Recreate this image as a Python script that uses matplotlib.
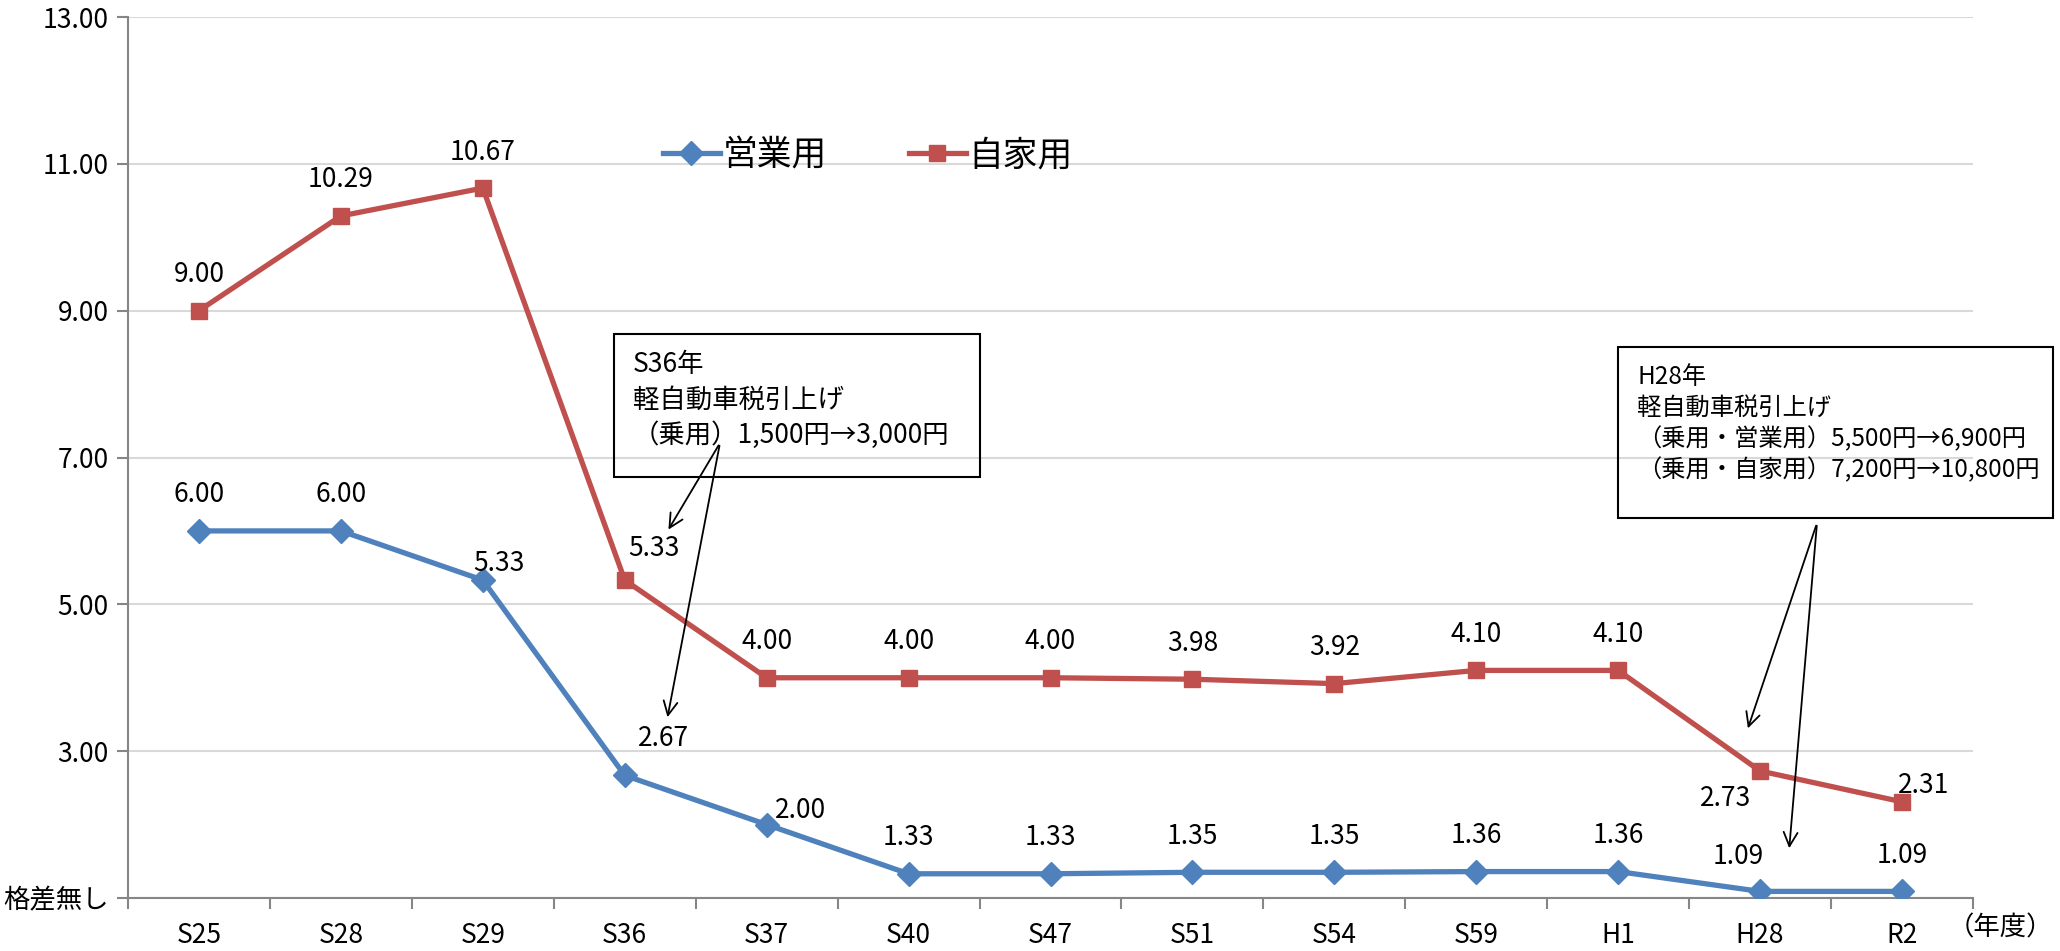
"""
Gap chart: 軽自動車税 vs 自動車税 ratio, 営業用 / 自家用, S25 .. R2.
"""

import matplotlib

matplotlib.use("Agg")
import matplotlib.pyplot as plt
from matplotlib.patches import Rectangle, FancyArrowPatch

plt.rcParams["font.family"] = ["Noto Sans CJK JP", "DejaVu Sans"]

# ---------------------------------------------------------------------------
# data
# ---------------------------------------------------------------------------
years = ["S25", "S28", "S29", "S36", "S37", "S40", "S47", "S51", "S54",
         "S59", "H1", "H28", "R2"]
business = [6.00, 6.00, 5.33, 2.67, 2.00, 1.33, 1.33, 1.35, 1.35, 1.36,
            1.36, 1.09, 1.09]
private = [9.00, 10.29, 10.67, 5.33, 4.00, 4.00, 4.00, 3.98, 3.92, 4.10,
           4.10, 2.73, 2.31]
y_ticks = [1, 3, 5, 7, 9, 11, 13]
y_labels = ["格差無し", "3.00", "5.00", "7.00", "9.00", "11.00", "13.00"]

note_s36 = ["S36年", "軽自動車税引上げ", "（乗用）1,500円→3,000円"]
note_h28 = ["H28年", "軽自動車税引上げ", "（乗用・営業用）5,500円→6,900円",
            "（乗用・自家用）7,200円→10,800円"]

BLUE = "#4F81BD"
RED = "#C0504D"
AXIS = "#868686"
W, H = 2060, 951
FS = 19

# label offsets in pixels (dx, dy up) where the default "above" doesn't fit
off_private = {3: (29, 32), 11: (-35, -28), 12: (22, 16)}
off_business = {2: (16, 17), 3: (39, 37), 4: (34, 14), 11: (-22, 35)}


def fx(px):
    return px / W


def fy(py):
    return 1 - py / H


fig = plt.figure(figsize=(W / 100, H / 100), dpi=100)
ax = fig.add_axes([fx(128), fy(898), fx(1973) - fx(128), fy(17) - fy(898)])

xs = list(range(len(years)))
ax.plot(xs, business, color=BLUE, lw=3.8, marker="D", ms=12, label="営業用",
        zorder=3)
ax.plot(xs, private, color=RED, lw=3.8, marker="s", ms=11, label="自家用",
        zorder=3)

for vals, offs in ((private, off_private), (business, off_business)):
    for i, v in enumerate(vals):
        dx, dy = offs.get(i, (0, 36))
        ax.annotate(f"{v:.2f}", (i, v), xytext=(dx * 0.72, dy * 0.72),
                    textcoords="offset points", ha="center", va="center",
                    fontsize=FS)

ax.set_xlim(-0.5, len(years) - 0.5)
ax.set_ylim(1, 13)
ax.set_xticks(xs)
ax.set_xticklabels(years, fontsize=FS)
ax.set_xticks([x - 0.5 for x in range(len(years) + 1)], minor=True)
ax.tick_params(axis="x", which="major", length=0, pad=17)
ax.tick_params(axis="x", which="minor", length=8, width=1.5, color=AXIS)
ax.set_yticks(y_ticks)
ax.set_yticklabels(y_labels, fontsize=FS)
ax.tick_params(axis="y", length=8, width=1.5, color=AXIS, pad=6)
ax.grid(axis="y", color="#D9D9D9", lw=1.5)
ax.set_axisbelow(True)
for s in ("top", "right"):
    ax.spines[s].set_visible(False)
for s in ("left", "bottom"):
    ax.spines[s].set_color(AXIS)
    ax.spines[s].set_linewidth(1.5)

fig.text(fx(2053), fy(928), "（年度）", fontsize=FS, ha="right", va="center")

ax.legend(loc="center left", bbox_to_anchor=(fx(663), fy(156)),
          bbox_transform=fig.transFigure, ncol=2, frameon=False,
          fontsize=25, handlelength=1.64, handletextpad=0.08,
          columnspacing=2.35, borderpad=0, borderaxespad=0)

# annotation boxes: (box px, text x, first line centre, line step, size)
boxes = [((614, 334, 980, 477), 633, 365, 35, 19, note_s36),
         ((1618, 347, 2053, 518), 1637, 377, 31, 17.5, note_h28)]
for (x0, y0, x1, y1), tx, ty, step, size, lines in boxes:
    fig.patches.append(Rectangle((fx(x0), fy(y1)), fx(x1) - fx(x0),
                                 fy(y0) - fy(y1), transform=fig.transFigure,
                                 fill=False, ec="black", lw=1.5))
    for k, line in enumerate(lines):
        fig.text(fx(tx), fy(ty + k * step), line, fontsize=size,
                 ha="left", va="center")

arrows = [((720, 443), (667, 532)), ((720, 443), (667, 720)),
          ((1817, 523), (1747, 731)), ((1817, 523), (1789, 851))]
for (sx, sy), (tx, ty) in arrows:
    fig.add_artist(FancyArrowPatch(
        (fx(sx), fy(sy)), (fx(tx), fy(ty)), transform=fig.transFigure,
        arrowstyle="->,head_length=10,head_width=5", color="black", lw=1.3,
        mutation_scale=1))

fig.savefig("out.png", dpi=100)
